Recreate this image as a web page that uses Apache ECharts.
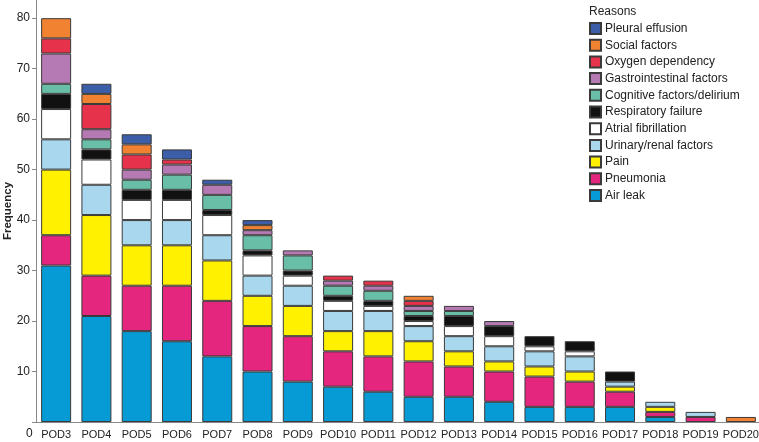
<!DOCTYPE html>
<html><head><meta charset="utf-8">
<script src="https://cdn.jsdelivr.net/npm/echarts@6/dist/echarts.min.js"></script>
<style>html,body{margin:0;padding:0;background:#fff}#c{width:759px;height:442px}</style>
</head><body><div id="c"></div>
<script>
const categories = ['POD3','POD4','POD5','POD6','POD7','POD8','POD9','POD10','POD11','POD12','POD13','POD14','POD15','POD16','POD17','POD18','POD19','POD20'];
const airLeak    = [31,21,18,16,13,10,8,7,6,5,5,4,3,3,3,1,0,0];
const pneumonia  = [6,8,9,11,11,9,9,7,7,7,6,6,6,5,3,1,1,0];
const pain       = [13,12,8,8,8,6,6,4,5,4,3,2,2,2,1,1,0,0];
const urinary    = [6,6,5,5,5,4,4,4,4,3,3,3,3,3,1,1,1,0];
const atrialFib  = [6,5,4,4,4,4,2,2,1,1,2,2,1,1,0,0,0,0];
const respFail   = [3,2,2,2,1,1,1,1,1,1,2,2,2,2,2,0,0,0];
const cognitive  = [2,2,2,3,3,3,3,2,2,1,1,0,0,0,0,0,0,0];
const gastro     = [6,2,2,2,2,1,1,1,1,1,1,1,0,0,0,0,0,0];
const oxygen     = [3,5,3,1,0,0,0,1,1,1,0,0,0,0,0,0,0,0];
const social     = [4,2,2,0,0,1,0,0,0,1,0,0,0,0,0,0,0,1];
const pleural    = [0,2,2,2,1,1,0,0,0,0,0,0,0,0,0,0,0,0];
const yTicks = [10,20,30,40,50,60,70,80];

const seriesDefs = [
  ['Air leak', airLeak, '#079bd5'],
  ['Pneumonia', pneumonia, '#e5267f'],
  ['Pain', pain, '#fff100'],
  ['Urinary/renal factors', urinary, '#a8d7ee'],
  ['Atrial fibrillation', atrialFib, '#ffffff'],
  ['Respiratory failure', respFail, '#111111'],
  ['Cognitive factors/delirium', cognitive, '#69bea8'],
  ['Gastrointestinal factors', gastro, '#b57ab3'],
  ['Oxygen dependency', oxygen, '#e6334b'],
  ['Social factors', social, '#f08232'],
  ['Pleural effusion', pleural, '#3c5da7']
];
const FONT = '"Liberation Sans", Arial, sans-serif';
const chart = echarts.init(document.getElementById('c'), null, {renderer:'canvas'});
chart.setOption({
  animation:false,
  textStyle:{fontFamily:FONT},
  title:{text:'Reasons', left:589, top:6, padding:0, textStyle:{fontFamily:FONT, fontSize:12, fontWeight:'normal', color:'#222'}},
  legend:{
    data: seriesDefs.map(d=>d[0]).reverse(),
    orient:'vertical', left:589, top:22, padding:0,
    itemWidth:11, itemHeight:11, itemGap:3.7,
    textStyle:{fontFamily:FONT, fontSize:12, color:'#222', padding:[0,0,0,-1]},
    icon:'rect'
  },
  grid:{left:36, right:-2, top:0, bottom:20, containLabel:false, outerBoundsMode:'none'},
  xAxis:{
    type:'category', data:categories,
    axisLine:{lineStyle:{color:'#888', width:1}},
    axisTick:{show:false},
    axisLabel:{color:'#222', fontSize:11, margin:7, interval:0, fontFamily:FONT}
  },
  yAxis:{
    type:'value', min:0, max:83.6, interval:10,
    splitLine:{show:false},
    axisLine:{show:true, lineStyle:{color:'#888', width:1}},
    axisTick:{show:true, inside:false, length:4, lineStyle:{color:'#888'}},
    axisLabel:{color:'#222', fontSize:12, margin:6, fontFamily:FONT, showMaxLabel:false,
      formatter:v => yTicks.includes(v) ? String(v) : ''}
  },
  graphic:[
    {type:'text', left:26, top:428, style:{text:'0', font:'12px '+FONT, fill:'#222'}},
    {type:'text', x:8, y:211, rotation:Math.PI/2,
      style:{text:'Frequency', font:'bold 11.5px '+FONT, fill:'#222', align:'center', verticalAlign:'middle'}}
  ],
  series: seriesDefs.map(d=>({
    name:d[0], type:'bar', stack:'all', barWidth:30,
    data:d[1].map(v=>v===0?'-':v),
    itemStyle:{color:d[2], borderColor:'#3a3a3a', borderWidth:1}
  }))
});
</script></body></html>
